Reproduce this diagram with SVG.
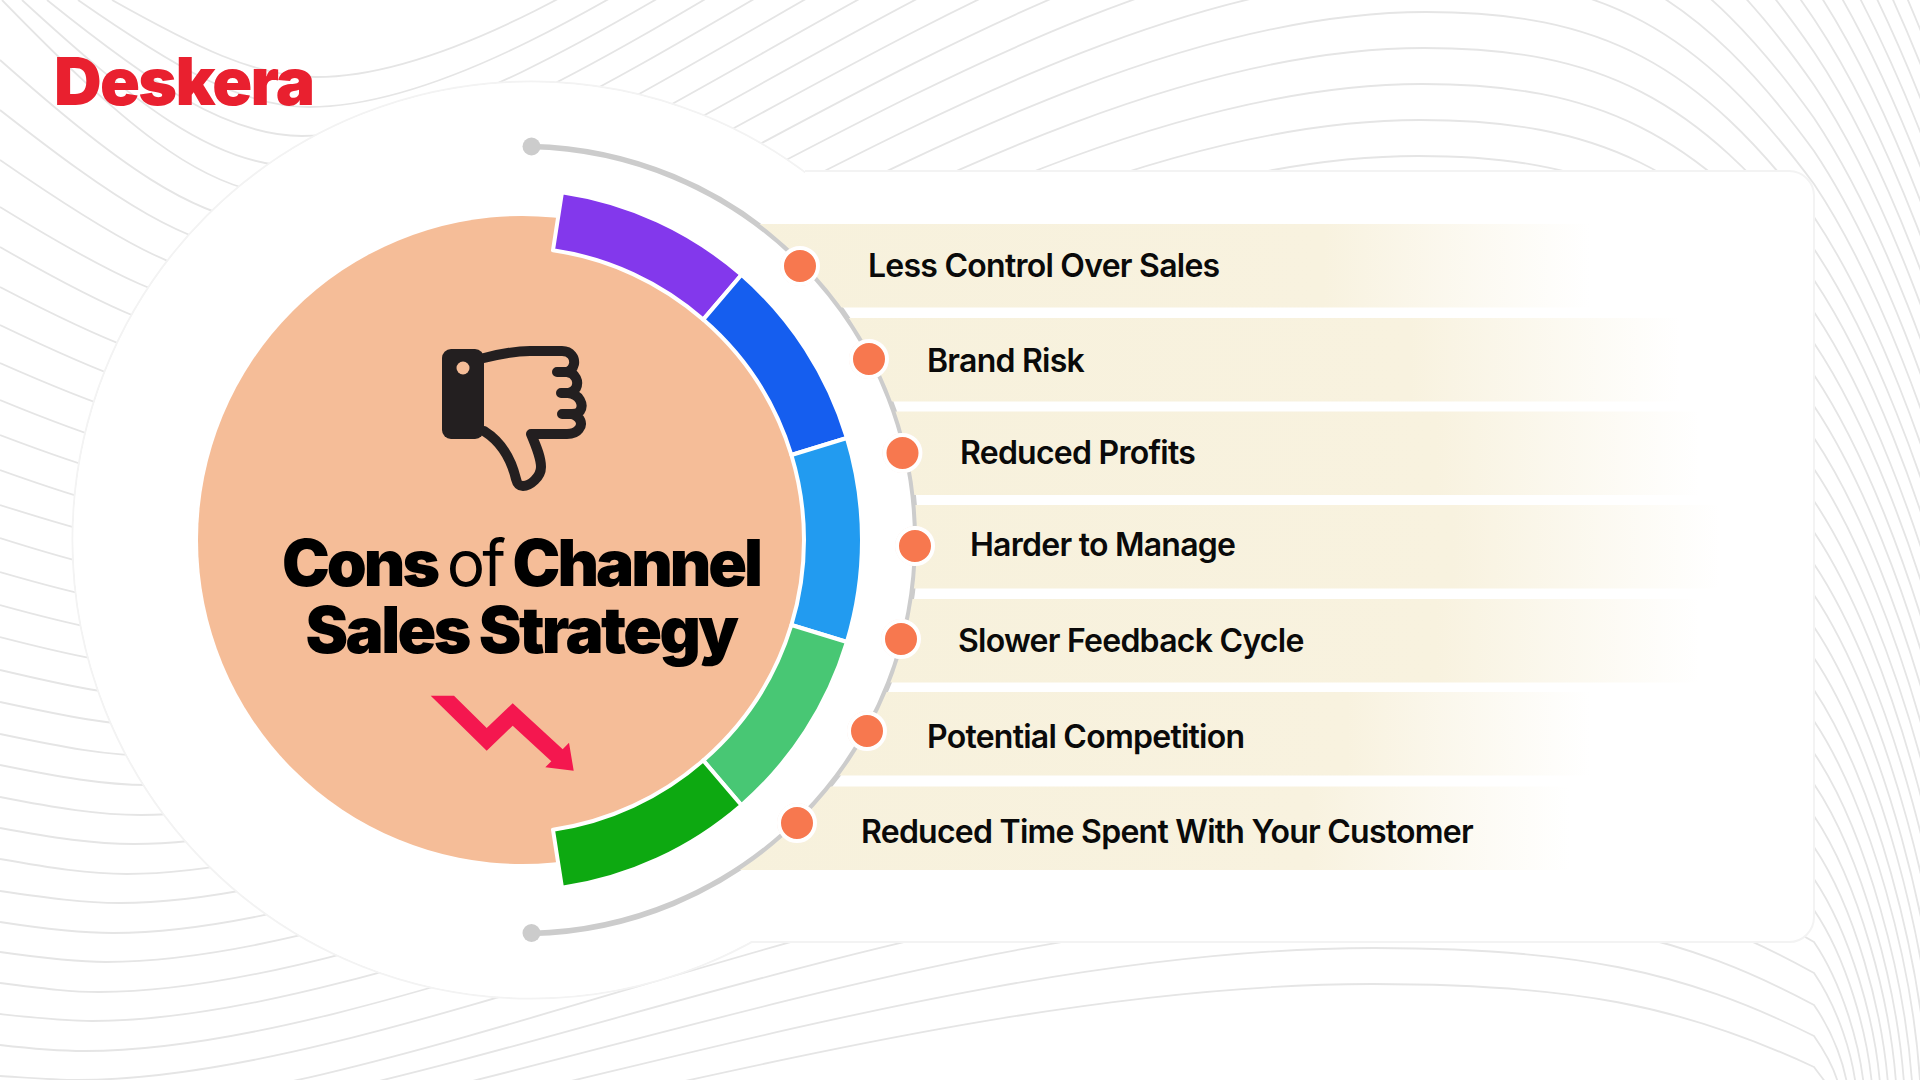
<svg xmlns="http://www.w3.org/2000/svg" width="1920" height="1080" viewBox="0 0 1920 1080">
<style>
.w{fill:none;stroke:#e5e5e5;stroke-width:1.8}
.bar{clip-path:url(#outside)}
.dot{fill:#f7784f;stroke:#fff;stroke-width:4}
.halo{fill:#fff;stroke:#fde3d8;stroke-width:1}
.lab{font-family:Inter,"Liberation Sans",sans-serif;font-weight:600;font-size:32px;letter-spacing:-0.75px;fill:#0a0a0a}
.ttl{font-family:Inter,"Liberation Sans",sans-serif;font-weight:900;font-size:64px;fill:#000;text-anchor:middle}
.hand{fill:none;stroke:#231f20;stroke-width:10;stroke-linecap:round;stroke-linejoin:round}
.seg{stroke:#fff;stroke-width:4;stroke-linejoin:round}
</style>
<defs>
<clipPath id="outside"><path clip-rule="evenodd" d="M0 0H1920V1080H0ZM125 540A396 396 0 1 0 917 540A396 396 0 1 0 125 540Z"/></clipPath>
<linearGradient id="g1" x1="0" x2="1" y1="0" y2="0"><stop offset="0" stop-color="#f7f1dc"/><stop offset=".7" stop-color="#f8f2df"/><stop offset="1" stop-color="#fff"/></linearGradient>
</defs>
<rect width="1920" height="1080" fill="#fff"/>
<g id="background-lines" class="w">
<path d="M112 0C194 46 255 77 316 77C600 77 1053 -420 1450 -420C1614 -420 1705 -360 1814 -179C1980 69 2128 652 2145 1100"/>
<path d="M78 0C170 64 240 107 309 107C594 107 1049 -384 1448 -384C1613 -384 1704 -325 1814 -146C1976 96 2121 664 2137 1100"/>
<path d="M47 0C149 82 226 136 302 136C588 136 1046 -348 1446 -348C1612 -348 1704 -289 1814 -113C1972 123 2113 675 2129 1100"/>
<path d="M22 0C131 100 213 166 295 166C582 166 1042 -312 1444 -312C1611 -312 1703 -254 1814 -80C1968 150 2106 687 2121 1100"/>
<path d="M2 0C116 117 202 195 288 195C576 195 1038 -276 1442 -276C1609 -276 1702 -219 1814 -47C1964 177 2098 699 2113 1100"/>
<path d="M0 60C112 159 197 225 281 225C571 225 1034 -240 1440 -240C1608 -240 1702 -183 1814 -14C1960 204 2090 710 2105 1100"/>
<path d="M0 110C110 196 192 254 274 254C565 254 1031 -204 1438 -204C1607 -204 1701 -148 1814 19C1956 231 2083 722 2097 1100"/>
<path d="M0 160C107 234 187 284 267 284C559 284 1027 -168 1436 -168C1606 -168 1701 -113 1814 52C1952 258 2075 733 2089 1100"/>
<path d="M0 207C104 271 182 313 260 313C554 313 1023 -132 1434 -132C1605 -132 1700 -78 1814 85C1948 285 2068 745 2081 1100"/>
<path d="M0 247C101 305 177 343 253 343C548 343 1019 -96 1432 -96C1604 -96 1699 -42 1814 118C1944 312 2060 756 2073 1100"/>
<path d="M0 287C98 338 172 372 246 372C542 372 1016 -60 1430 -60C1603 -60 1699 -7 1814 151C1940 339 2052 768 2065 1100"/>
<path d="M0 325C96 371 167 402 239 402C536 402 1012 -24 1428 -24C1602 -24 1698 28 1814 184C1936 366 2045 779 2057 1100"/>
<path d="M0 363C93 404 162 431 232 431C531 431 1008 12 1426 12C1601 12 1698 63 1814 217C1932 393 2037 791 2049 1100"/>
<path d="M0 400C90 437 158 461 225 461C525 461 1004 48 1424 48C1600 48 1697 98 1814 249C1928 419 2030 802 2041 1100"/>
<path d="M0 435C87 468 153 490 218 490C519 490 1001 84 1422 84C1598 84 1696 133 1814 280C1924 444 2022 813 2033 1100"/>
<path d="M0 470C84 500 148 520 211 520C513 520 997 120 1420 120C1597 120 1696 168 1814 312C1920 470 2014 824 2025 1100"/>
<path d="M0 505C82 531 143 549 204 549C508 549 993 156 1418 156C1596 156 1695 203 1814 343C1916 495 2007 835 2017 1100"/>
<path d="M0 538C79 563 138 579 197 579C502 579 989 192 1416 192C1595 192 1695 238 1814 375C1912 521 1999 846 2009 1100"/>
<path d="M0 572C76 594 133 608 190 608C496 608 986 228 1414 228C1594 228 1694 273 1814 406C1908 546 1992 857 2001 1100"/>
<path d="M0 605C73 625 128 638 183 638C490 638 982 264 1412 264C1593 264 1693 308 1814 438C1904 572 1984 868 1993 1100"/>
<path d="M0 637C70 655 123 667 176 667C485 667 978 300 1410 300C1592 300 1693 342 1814 469C1900 597 1976 879 1985 1100"/>
<path d="M0 670C68 686 118 697 169 697C479 697 974 336 1408 336C1591 336 1692 377 1814 501C1896 623 1969 890 1977 1100"/>
<path d="M0 702C65 716 113 726 162 726C473 726 971 372 1406 372C1590 372 1692 412 1814 532C1892 648 1961 901 1969 1100"/>
<path d="M0 734C62 747 108 756 155 756C467 756 967 408 1404 408C1589 408 1691 447 1814 564C1888 674 1954 912 1961 1100"/>
<path d="M0 765C59 777 104 785 148 785C462 785 963 444 1402 444C1587 444 1690 482 1814 595C1884 699 1946 923 1953 1100"/>
<path d="M0 797C56 808 99 815 141 815C456 815 959 480 1400 480C1586 480 1690 517 1814 627C1880 725 1938 934 1945 1100"/>
<path d="M0 828C54 838 94 844 134 844C450 844 956 516 1398 516C1585 516 1689 552 1814 658C1876 750 1931 945 1937 1100"/>
<path d="M0 859C51 868 89 874 127 874C444 874 952 552 1396 552C1584 552 1689 587 1814 690C1872 776 1923 956 1929 1100"/>
<path d="M0 891C48 898 84 903 120 903C439 903 948 588 1394 588C1583 588 1688 621 1814 721C1868 801 1916 967 1921 1100"/>
<path d="M0 922C45 929 79 933 113 933C433 933 944 624 1392 624C1582 624 1687 656 1814 753C1864 827 1908 979 1913 1100"/>
<path d="M0 952C42 958 74 962 106 962C427 962 941 660 1390 660C1581 660 1687 691 1814 784C1860 852 1900 989 1905 1100"/>
<path d="M0 983C40 988 69 992 99 992C421 992 937 696 1388 696C1580 696 1686 726 1814 816C1856 878 1893 1001 1897 1100"/>
<path d="M0 1014C37 1018 64 1021 92 1021C416 1021 933 732 1386 732C1579 732 1686 761 1814 847C1852 903 1885 1011 1889 1100"/>
<path d="M0 1045C34 1049 60 1051 85 1051C410 1051 929 768 1384 768C1578 768 1685 796 1814 879C1848 929 1878 1023 1881 1100"/>
<path d="M0 1076C31 1078 55 1080 78 1080C404 1080 926 804 1382 804C1576 804 1684 831 1814 910C1844 954 1870 1033 1873 1100"/>
<path d="M71 1110C398 1110 922 840 1380 840C1575 840 1684 866 1814 942C1840 980 1862 1045 1865 1100"/>
<path d="M64 1129C393 1129 918 876 1378 876C1574 876 1683 900 1814 973C1836 1005 1855 1056 1857 1100"/>
<path d="M57 1150C387 1150 914 912 1376 912C1573 912 1683 935 1814 1005C1832 1031 1847 1067 1849 1100"/>
<path d="M50 1170C381 1170 911 948 1374 948C1572 948 1682 970 1814 1036C1828 1056 1840 1078 1841 1100"/>
<path d="M43 1190C375 1190 907 984 1372 984C1571 984 1681 1005 1814 1067C1824 1081 1832 1088 1833 1100"/>
</g>
<g id="panel">
<circle cx="531" cy="540" r="458.5" fill="#fff" stroke="#f3f3f3" stroke-width="2"/>
<path d="M805 171H1789A25 25 0 0 1 1814 196V917A25 25 0 0 1 1789 942H750" fill="#fff" stroke="#f3f3f3" stroke-width="2"/>
</g>
<circle id="panel-join" cx="531" cy="540" r="457.5" fill="#fff"/>
<g id="connectors">
<path d="M531 146.5A393.6 393.6 0 0 1 531 933.5" fill="none" stroke="#ccc" stroke-width="5.5"/>
<circle cx="531.5" cy="146.5" r="9" fill="#ccc"/>
<circle cx="531.5" cy="933" r="9" fill="#ccc"/>
</g>
<g id="center">
<circle cx="522" cy="540" r="324" fill="#f5bd98"/>
<path class="seg" fill="#8338ec" d="M553 250.2L562 192.2A352 352 0 0 1 741.5 274.8L703.2 319.6A293 293 0 0 0 553 250.2Z"/>
<path class="seg" fill="#155eef" d="M703.2 319.6L741.5 274.8A352 352 0 0 1 846.9 438L791.4 455A293 293 0 0 0 703.2 319.6Z"/>
<path class="seg" fill="#229bf0" d="M791.4 455L846.9 438A352 352 0 0 1 846.9 642L791.4 625A293 293 0 0 0 791.4 455Z"/>
<path class="seg" fill="#48c774" d="M791.4 625L846.9 642A352 352 0 0 1 741.5 805.2L703.2 760.4A293 293 0 0 0 791.4 625Z"/>
<path class="seg" fill="#0da911" d="M703.2 760.4L741.5 805.2A352 352 0 0 1 562 887.8L553 829.8A293 293 0 0 0 703.2 760.4Z"/>
<g id="thumbs-down">
<path class="hand" d="M484 358C500 354 515 351 530 351H562C571 351 575 358 574 364C573 368 571 371 567 372H557M567 372C576 373 579 382 576 388C574 391 572 393 568 393H561M568 393C580 394 584 405 580 411C578 414 575 414 572 414H562M572 414C581 417 583 424 579 429C576 433 572 434 567 434H531C537 448 541 458 541 467C541 477 530 486 523 486C518 486 517 483 516 479C511 458 500 441 484 431"/>
<rect x="442" y="349" width="42" height="90" rx="9" fill="#231f20"/>
<circle cx="463" cy="368" r="6.5" fill="#f5bd98"/>
</g>
<text class="ttl" x="521" y="586" letter-spacing="-3">Cons <tspan font-weight="400">of</tspan> Channel</text>
<text class="ttl" x="521" y="653" letter-spacing="-2.6">Sales Strategy</text>
<polygon id="down-arrow" fill="#f4174f" points="430.7,695.7 454,695.7 486.7,728 512.7,703.3 562.7,749.3 569,742.7 573.7,770.7 545.3,767.3 551.3,761.3 512.7,725.7 486.7,750.7"/>
</g>
<g id="logo"><text x="54" y="105" font-family="Inter,'Liberation Sans',sans-serif" font-weight="900" font-size="66" letter-spacing="-1.7" fill="#e9202f">Deskera</text></g>
<g id="item-1"><rect class="bar" x="700" y="224" width="890" height="83.5" fill="url(#g1)"/><circle class="halo" cx="800" cy="266" r="19.5"/><circle class="dot" cx="800" cy="266" r="18"/><text class="lab" x="868" y="277">Less Control Over Sales</text></g>
<g id="item-2"><rect class="bar" x="780" y="318" width="900" height="83.5" fill="url(#g1)"/><circle class="halo" cx="869" cy="359" r="19.5"/><circle class="dot" cx="869" cy="359" r="18"/><text class="lab" x="927" y="371.5">Brand Risk</text></g>
<g id="item-3"><rect class="bar" x="820" y="411.5" width="880" height="83.5" fill="url(#g1)"/><circle class="halo" cx="902.5" cy="453" r="19.5"/><circle class="dot" cx="902.5" cy="453" r="18"/><text class="lab" x="960" y="464">Reduced Profits</text></g>
<g id="item-4"><rect class="bar" x="830" y="505" width="890" height="83.5" fill="url(#g1)"/><circle class="halo" cx="915" cy="546" r="19.5"/><circle class="dot" cx="915" cy="546" r="18"/><text class="lab" x="970" y="556">Harder to Manage</text></g>
<g id="item-5"><rect class="bar" x="820" y="599" width="880" height="83.5" fill="url(#g1)"/><circle class="halo" cx="901" cy="639" r="19.5"/><circle class="dot" cx="901" cy="639" r="18"/><text class="lab" x="958" y="652">Slower Feedback Cycle</text></g>
<g id="item-6"><rect class="bar" x="780" y="692" width="810" height="83.5" fill="url(#g1)"/><circle class="halo" cx="867" cy="731" r="19.5"/><circle class="dot" cx="867" cy="731" r="18"/><text class="lab" x="927" y="748">Potential Competition</text></g>
<g id="item-7"><rect class="bar" x="700" y="786.5" width="870" height="83.5" fill="url(#g1)"/><circle class="halo" cx="797" cy="823" r="19.5"/><circle class="dot" cx="797" cy="823" r="18"/><text class="lab" x="861" y="842.5">Reduced Time Spent With Your Customer</text></g>
</svg>
